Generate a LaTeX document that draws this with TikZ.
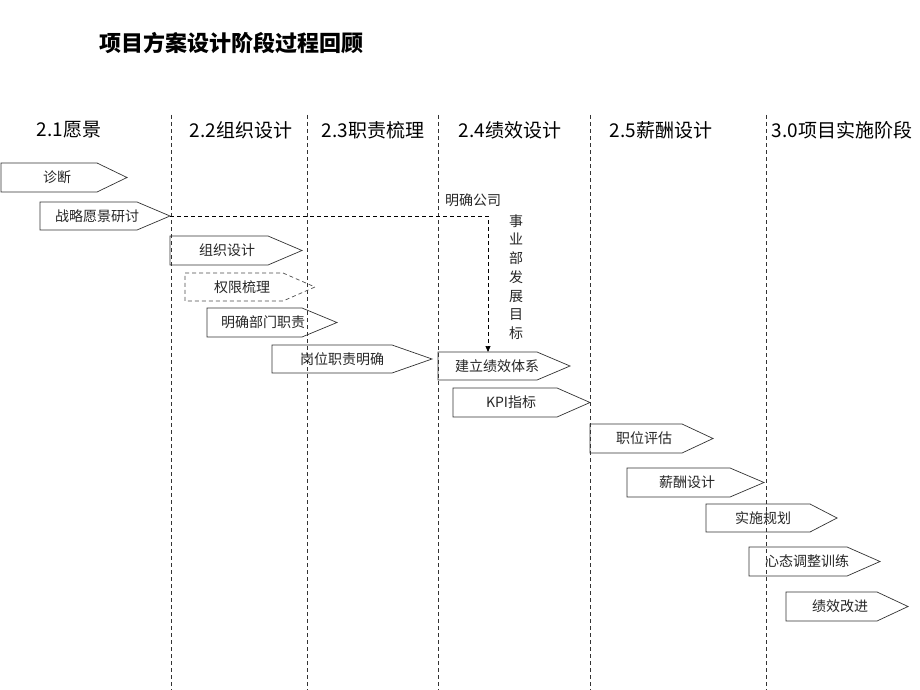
\documentclass[tikz,border=0pt]{standalone}
\usepackage{fontspec}
\setmainfont{Noto Sans CJK SC}
\usetikzlibrary{arrows.meta}
\tikzset{
  vline/.style={draw=black!80, line width=0.7pt, dash pattern=on 4pt off 3pt},
  stagebox/.style={draw=black!80, line width=0.7pt},
  dashbox/.style={draw=black!70, line width=0.7pt, dash pattern=on 4pt off 3pt},
  boxtext/.style={inner sep=0pt, font=\fontsize{14}{16}\selectfont, text=black!85},
  headtext/.style={inner sep=0pt, font=\fontsize{19}{22}\selectfont},
  titletext/.style={inner sep=0pt, font=\fontsize{22}{26}\selectfont\bfseries},
  smalltext/.style={inner sep=0pt, font=\fontsize{14}{18.7}\selectfont, text=black!85, align=center},
  linkline/.style={draw=black, line width=0.7pt, dash pattern=on 4pt off 3pt, -{Triangle[length=6pt,width=5pt]}}
}
\newcommand{\stagebox}[9]{%
  \path[#9] (#2,#3) -- (#5,#3) -- (#6,{(#3+#4)/2}) -- (#5,#4) -- (#2,#4) -- cycle;
  \coordinate (#1-tip) at (#6,{(#3+#4)/2});
  \coordinate (#1-tl) at (#2,#3);
  \node[boxtext] (#1) at (#7,{(#3+#4)/2}) {#8};
}
\begin{document}
\begin{tikzpicture}[x=1pt,y=-1pt]
\useasboundingbox[fill=white] (0,0) rectangle (920,690);
% title
\node[titletext] (title) at (231,43) {项目方案设计阶段过程回顾};
% dividers
\foreach \xx/\nm in {171/d1,307/d2,438/d3,590/d4,766/d5}{
  \coordinate (\nm-top) at (\xx,115);
  \coordinate (\nm-bot) at (\xx,690);
  \draw[vline] (\nm-top) -- (\nm-bot);
}
% headers
\node[headtext] (h1) at (69,130) {2.1愿景};
\node[headtext] (h2) at (241,130) {2.2组织设计};
\node[headtext] (h3) at (373,130) {2.3职责梳理};
\node[headtext] (h4) at (510,130) {2.4绩效设计};
\node[headtext] (h5) at (661,130) {2.5薪酬设计};
\node[headtext] (h6) at (842,130) {3.0项目实施阶段};
% stage boxes
\stagebox{zd}{1}{163}{192}{97}{127}{57}{诊断}{stagebox}
\stagebox{zl}{40}{202}{230}{137}{170}{97}{战略愿景研讨}{stagebox}
\stagebox{zz}{170}{236}{265}{268}{302}{227}{组织设计}{stagebox}
\stagebox{qx}{185}{273}{301}{283}{315}{242}{权限梳理}{dashbox}
\stagebox{mq}{207}{308}{337}{302}{337}{263}{明确部门职责}{stagebox}
\stagebox{gw}{272}{345}{373}{392}{432}{342}{岗位职责明确}{stagebox}
\stagebox{jl}{438}{352}{380}{537}{570}{497}{建立绩效体系}{stagebox}
\stagebox{kpi}{453}{388}{417}{557}{590}{511}{KPI指标}{stagebox}
\stagebox{zw}{590}{424}{453}{682}{713}{644}{职位评估}{stagebox}
\stagebox{xc}{627}{468}{497}{730}{764}{687}{薪酬设计}{stagebox}
\stagebox{ss}{706}{504}{532}{810}{837}{763}{实施规划}{stagebox}
\stagebox{xt}{749}{547}{576}{847}{880}{807}{心态调整训练}{stagebox}
\stagebox{jx}{786}{592}{621}{877}{908}{840}{绩效改进}{stagebox}
% connector
\coordinate (turn) at (488,216);
\coordinate (jl-in) at (488,352);
\draw[linkline] (zl-tip) -- (turn) -- (jl-in);
\node[boxtext] (mqgs) at (473,200) {明确公司};
\node[smalltext] (syb) at (516,277) {事\\业\\部\\发\\展\\目\\标};
\end{tikzpicture}
\end{document}
